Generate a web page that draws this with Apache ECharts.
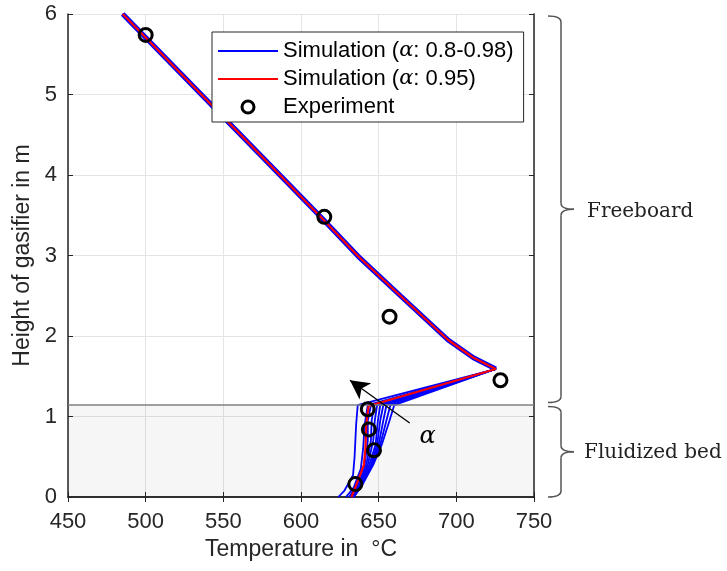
<!DOCTYPE html>
<html>
<head>
<meta charset="utf-8">
<script src="https://cdn.jsdelivr.net/npm/echarts@6/dist/echarts.min.js"></script>
<style>
  html, body { margin: 0; padding: 0; background: #ffffff; }
  #main { width: 727px; height: 571px; }
</style>
</head>
<body>
<div id="main"></div>
<script>
// freeboard temperature profile shared by every simulation run, [T, H]
var freeboard = [[485.2, 6], [535.8, 5], [586.4, 4], [613.2, 3.47], [636.8, 2.99],
  [664, 2.5], [694.7, 1.95], [711, 1.73], [725.4, 1.59]];

// bed part of the blue runs (alpha 0.8 - 0.98), [T, H]
var bedRun1 = [[636.5, 1.14], [635.5, 0.9], [634.5, 0.5], [633.5, 0.27], [628, 0.08], [624, 0]];
var bedRun2 = [[643, 1.14], [641, 0.9], [640, 0.6], [638.5, 0.35], [634, 0.12], [629, 0]];
var bedRun3 = [[645, 1.14], [643, 0.95], [643, 0.7], [641, 0.4], [636, 0.15], [631, 0]];
var bedRun4 = [[647, 1.14], [645.5, 0.95], [645, 0.7], [642, 0.4], [637, 0.15], [632, 0]];
var bedRun5 = [[649, 1.14], [647.5, 0.95], [646.5, 0.7], [643, 0.4], [637.5, 0.15], [632.5, 0]];
var bedRun6 = [[651, 1.14], [649.5, 0.95], [648, 0.65], [644, 0.4], [638, 0.15], [633, 0]];
var bedRun7 = [[653, 1.14], [651, 0.95], [649, 0.65], [645, 0.4], [638.5, 0.15], [633, 0]];
var bedRun8 = [[655, 1.14], [653, 0.95], [650, 0.65], [645.5, 0.4], [639, 0.15], [633.5, 0]];
var bedRun9 = [[657.5, 1.14], [655, 0.95], [651, 0.65], [646, 0.4], [639, 0.15], [634, 0]];
var bedRun10 = [[660, 1.14], [657, 0.95], [652, 0.65], [646.5, 0.4], [639.5, 0.15], [634, 0]];
var bedRuns = [bedRun1, bedRun2, bedRun3, bedRun4, bedRun5, bedRun6, bedRun7, bedRun8, bedRun9, bedRun10];

// alpha = 0.95 run in the bed
var bedRed = [[643.5, 1.13], [642, 0.9], [641.5, 0.6], [640.5, 0.4], [636, 0.17], [632.5, 0]];

// measurements
var expT = [500, 615, 657, 728.4, 643, 643.7, 647, 635];
var expH = [5.74, 3.48, 2.24, 1.45, 1.09, 0.84, 0.58, 0.16];

var bedTop = 1.15;
var arrowTail = [670, 0.92];
var arrowHead = [631.5, 1.45];
var alphaPos = [681.5, 0.75];

var blueName = 'Simulation (α: 0.8-0.98)';
var redName = 'Simulation (α: 0.95)';
var expName = 'Experiment';

var chart = echarts.init(document.getElementById('main'), null, { renderer: 'canvas' });

var series = [];

// shaded bed zone, bed top line, arrow
series.push({
  type: 'line',
  data: [],
  silent: true,
  markArea: {
    silent: true,
    itemStyle: { color: 'rgba(0,0,0,0.035)' },
    data: [[{ yAxis: 0 }, { yAxis: bedTop }]]
  },
  markLine: {
    silent: true,
    symbol: 'none',
    label: { show: false },
    data: [
      { yAxis: bedTop, lineStyle: { color: '#808080', width: 1.5, type: 'solid' } },
      [
        { coord: arrowTail, symbol: 'none', lineStyle: { color: '#000', width: 1.3, type: 'solid' } },
        { coord: arrowHead, symbol: 'arrow', symbolSize: [15, 19] }
      ]
    ]
  }
});

bedRuns.forEach(function (bed) {
  series.push({
    name: blueName,
    type: 'line',
    symbol: 'none',
    lineStyle: { color: '#0000ff', width: 1.8 },
    itemStyle: { color: '#0000ff' },
    data: freeboard.concat(bed)
  });
});

// blue band along the freeboard
series.push({
  name: blueName,
  type: 'line',
  symbol: 'none',
  lineStyle: { color: '#0000ff', width: 5 },
  itemStyle: { color: '#0000ff' },
  data: freeboard
});

series.push({
  name: redName,
  type: 'line',
  symbol: 'none',
  lineStyle: { color: '#ff0000', width: 2.2 },
  itemStyle: { color: '#ff0000' },
  data: freeboard.concat(bedRed)
});

series.push({
  name: expName,
  type: 'scatter',
  symbol: 'circle',
  symbolSize: 13,
  itemStyle: { color: 'rgba(255,255,255,0)', borderColor: '#000', borderWidth: 3, opacity: 1 },
  data: expT.map(function (t, i) { return [t, expH[i]]; }),
  z: 5
});

series.push({
  type: 'scatter',
  symbolSize: 1,
  silent: true,
  itemStyle: { color: 'rgba(0,0,0,0)', opacity: 1 },
  label: {
    show: true,
    position: 'inside',
    formatter: 'α',
    fontFamily: 'DejaVu Serif',
    fontStyle: 'italic',
    fontSize: 24,
    color: '#000'
  },
  data: [alphaPos]
});

var axisFont = { fontFamily: 'Liberation Sans', fontSize: 22, color: '#262626' };
var nameFont = { fontFamily: 'Liberation Sans', fontSize: 23, color: '#262626' };
var lineIcon = 'path://M0 0H60V2H0Z';

var option = {
  animation: false,
  backgroundColor: '#ffffff',
  grid: { left: 68, right: 193, top: 14, bottom: 74 },
  legend: {
    orient: 'vertical',
    left: 212,
    top: 32,
    padding: [8, 10, 4, 6],
    itemGap: 6,
    itemWidth: 60,
    itemHeight: 12,
    backgroundColor: '#ffffff',
    borderColor: '#262626',
    borderWidth: 1,
    borderRadius: 0,
    textStyle: {
      fontFamily: 'Liberation Sans', fontSize: 22, lineHeight: 22, color: '#000',
      rich: { a: { fontFamily: 'DejaVu Serif', fontStyle: 'italic', fontSize: 21, lineHeight: 22, color: '#000' } }
    },
    formatter: function (n) { return n.replace('α', '{a|α}'); },
    data: [
      { name: blueName, icon: lineIcon, itemStyle: { color: '#0000ff' } },
      { name: redName, icon: lineIcon, itemStyle: { color: '#ff0000' } },
      { name: expName, icon: 'circle', itemStyle: { color: 'rgba(255,255,255,0)', borderColor: '#000', borderWidth: 3 } }
    ]
  },
  xAxis: [{
    type: 'value',
    min: 450,
    max: 750,
    interval: 50,
    name: 'Temperature in  °C',
    nameLocation: 'middle',
    nameGap: 41,
    nameTextStyle: nameFont,
    axisLine: { show: true, lineStyle: { color: '#262626', width: 1.5 } },
    axisTick: { show: true, inside: true, length: 5, lineStyle: { color: '#262626' } },
    axisLabel: Object.assign({ margin: 14 }, axisFont),
    splitLine: { show: true, lineStyle: { color: '#e4e4e4', width: 1 } }
  }, {
    type: 'value',
    position: 'top',
    min: 450,
    max: 750,
    interval: 50,
    axisLine: { show: true, lineStyle: { color: '#262626', width: 1.5 } },
    axisTick: { show: true, inside: true, length: 5, lineStyle: { color: '#262626' } },
    axisLabel: { show: false },
    splitLine: { show: false }
  }],
  yAxis: [{
    type: 'value',
    min: 0,
    max: 6,
    interval: 1,
    name: 'Height of gasifier in m',
    nameLocation: 'middle',
    nameGap: 28,
    nameTextStyle: nameFont,
    axisLine: { show: true, lineStyle: { color: '#262626', width: 1.5 } },
    axisTick: { show: true, inside: true, length: 5, lineStyle: { color: '#262626' } },
    axisLabel: Object.assign({ margin: 11 }, axisFont),
    splitLine: { show: true, lineStyle: { color: '#e4e4e4', width: 1 } }
  }, {
    type: 'value',
    position: 'right',
    min: 0,
    max: 6,
    interval: 1,
    axisLine: { show: true, lineStyle: { color: '#262626', width: 1.5 } },
    axisTick: { show: true, inside: true, length: 5, lineStyle: { color: '#262626' } },
    axisLabel: { show: false },
    splitLine: { show: false }
  }],
  series: series
};

chart.setOption(option);

// curly braces to the right of the plot, built from lines and quadratic curves
var braceStyle = { stroke: '#555', lineWidth: 1.5, fill: null };
function brace(x0, xv, xt, y1, y2) {
  var ym = (y1 + y2) / 2;
  var r = 6;
  var parts = [
    { type: 'bezierCurve', shape: { x1: x0, y1: y1, cpx1: xv, cpy1: y1, x2: xv, y2: y1 + r } },
    { type: 'line', shape: { x1: xv, y1: y1 + r, x2: xv, y2: ym - r } },
    { type: 'bezierCurve', shape: { x1: xv, y1: ym - r, cpx1: xv, cpy1: ym, x2: xt, y2: ym } },
    { type: 'bezierCurve', shape: { x1: xt, y1: ym, cpx1: xv, cpy1: ym, x2: xv, y2: ym + r } },
    { type: 'line', shape: { x1: xv, y1: ym + r, x2: xv, y2: y2 - r } },
    { type: 'bezierCurve', shape: { x1: xv, y1: y2 - r, cpx1: xv, cpy1: y2, x2: x0, y2: y2 } }
  ];
  return parts.map(function (p) {
    p.silent = true;
    p.style = braceStyle;
    return p;
  });
}

var pTop = chart.convertToPixel({ xAxisIndex: 0, yAxisIndex: 0 }, [750, 6]);
var pBed = chart.convertToPixel({ xAxisIndex: 0, yAxisIndex: 0 }, [750, bedTop]);
var pBot = chart.convertToPixel({ xAxisIndex: 0, yAxisIndex: 0 }, [750, 0]);
var x0 = pTop[0] + 14, xv = pTop[0] + 27, xt = pTop[0] + 40;
var labelStyle = { fontFamily: 'DejaVu Serif', fontSize: 20, fill: '#222', verticalAlign: 'middle' };

var graphics = brace(x0, xv, xt, pTop[1] + 2, pBed[1] - 2)
  .concat(brace(x0, xv, xt, pBed[1] + 2, pBot[1]))
  .concat([
    { type: 'text', silent: true, x: xt + 13, y: (pTop[1] + pBed[1]) / 2 + 3, style: Object.assign({ text: 'Freeboard' }, labelStyle) },
    { type: 'text', silent: true, x: xt + 10, y: (pBed[1] + pBot[1]) / 2 + 2, style: Object.assign({ text: 'Fluidized bed' }, labelStyle) }
  ]);

chart.setOption({ graphic: graphics });
</script>
</body>
</html>
